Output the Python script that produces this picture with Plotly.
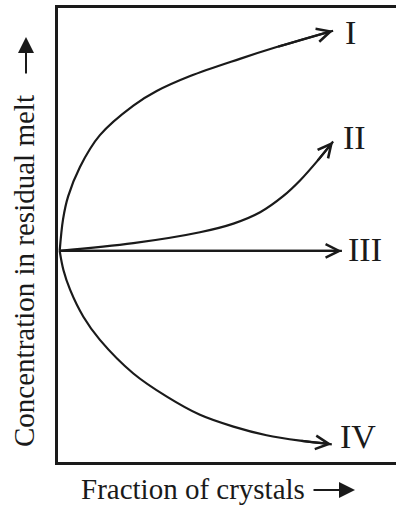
import plotly.graph_objects as go

# Data (x: fraction of crystals, y: concentration), arbitrary 0-100 units
curve_I_x = [0.5, 1.5, 3.0, 6.5, 12.4, 22.3, 29.2, 39.1, 53.8, 64.7, 81.4]
curve_I_y = [46.5, 53.5, 58.5, 65.0, 72.0, 78.5, 81.7, 85.0, 88.8, 91.4, 95.0]

curve_II_x = [0.5, 22.3, 42.0, 51.9, 59.8, 66.7, 71.6, 76.5, 81.4]
curve_II_y = [46.5, 48.2, 50.6, 52.5, 55.0, 58.6, 62.0, 66.1, 70.6]

curve_III_x = [0.5, 84.0]
curve_III_y = [46.5, 46.5]

curve_IV_x = [0.5, 1.6, 3.6, 7.5, 12.4, 22.3, 32.2, 42.0, 51.9, 61.7, 71.6, 81.0]
curve_IV_y = [46.5, 42.3, 37.9, 32.0, 26.9, 19.5, 14.4, 10.4, 7.8, 5.9, 4.7, 3.9]

labels = ["I", "II", "III", "IV"]
label_x = [86.4, 87.6, 90.8, 88.8]
label_y = [94.7, 71.4, 46.7, 5.7]

x_title = "Fraction of crystals"
y_title = "Concentration in residual melt"

INK = "#1a1a1a"
SERIF = "Liberation Serif, Times New Roman, serif"

curves = [(curve_I_x, curve_I_y), (curve_II_x, curve_II_y),
          (curve_III_x, curve_III_y), (curve_IV_x, curve_IV_y)]

fig = go.Figure()
annotations = []
for cx, cy in curves:
    fig.add_trace(go.Scatter(x=cx, y=cy, mode="lines",
                             line=dict(color=INK, width=2.2, shape="spline", smoothing=1.0),
                             hoverinfo="skip", showlegend=False))
    # open arrowhead at curve end, oriented along the last segment
    annotations.append(dict(x=cx[-1], y=cy[-1], ax=cx[-2], ay=cy[-2],
                            xref="x", yref="y", axref="x", ayref="y",
                            text="", showarrow=True, arrowhead=5, arrowsize=1.2,
                            arrowwidth=2.2, arrowcolor=INK, standoff=0))

for t, lx, ly in zip(labels, label_x, label_y):
    annotations.append(dict(x=lx, y=ly, xref="x", yref="y", text=t, showarrow=False,
                            font=dict(family=SERIF, size=34, color=INK),
                            xanchor="center", yanchor="middle"))

# axis titles as annotations
annotations.append(dict(x=0.398, y=-0.0595, xref="paper", yref="paper", text=x_title,
                        showarrow=False, font=dict(family=SERIF, size=29, color=INK),
                        xanchor="center", yanchor="middle"))
annotations.append(dict(x=-0.1006, y=0.4207, xref="paper", yref="paper", text=y_title,
                        showarrow=False, textangle=-90,
                        font=dict(family=SERIF, size=29, color=INK),
                        xanchor="center", yanchor="middle"))
# axis direction arrows
annotations.append(dict(x=(355 - 58) / 338, y=(462 - 490) / 454, xref="paper", yref="paper",
                        ax=-43, ay=0, text="", showarrow=True, arrowhead=2, arrowsize=1.6,
                        arrowwidth=2, arrowcolor=INK, standoff=0))
annotations.append(dict(x=(26 - 58) / 338, y=(462 - 37) / 454, xref="paper", yref="paper",
                        ax=0, ay=38, text="", showarrow=True, arrowhead=2, arrowsize=1.6,
                        arrowwidth=2, arrowcolor=INK, standoff=0))

fig.update_layout(
    width=396, height=505,
    margin=dict(l=58, r=0, t=8, b=43),
    paper_bgcolor="white", plot_bgcolor="white",
    annotations=annotations,
    xaxis=dict(range=[0, 100], showgrid=False, zeroline=False, showticklabels=False,
               ticks="", showline=True, mirror=True, linecolor=INK, linewidth=3, fixedrange=True),
    yaxis=dict(range=[0, 100], showgrid=False, zeroline=False, showticklabels=False,
               ticks="", showline=True, mirror=False, linecolor=INK, linewidth=3, fixedrange=True),
)

fig.write_html("out.html", config={"displayModeBar": False},
               post_script="document.body.style.margin='0px';")
